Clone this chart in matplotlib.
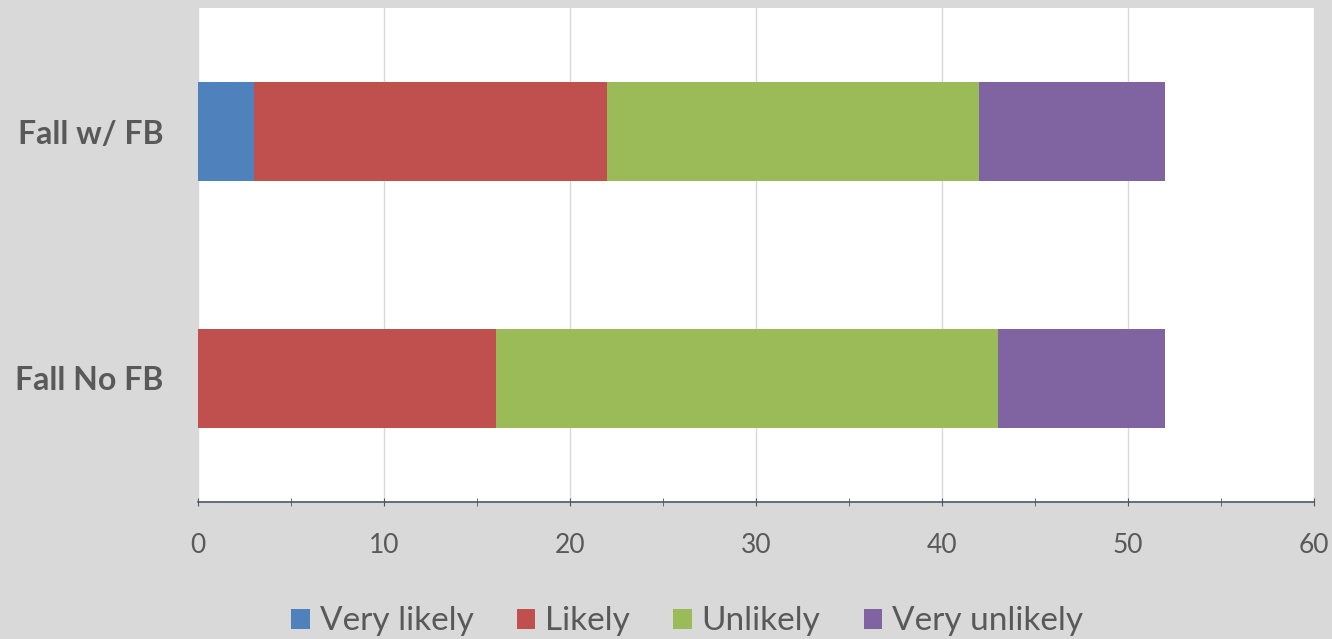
import matplotlib
matplotlib.use("Agg")
import matplotlib.pyplot as plt
import numpy as np

categories = ["Fall No FB", "Fall w/ FB"]
series_names = ["Very likely", "Likely", "Unlikely", "Very unlikely"]
very_likely = [0, 3]
likely = [16, 19]
unlikely = [27, 20]
very_unlikely = [9, 10]
x_ticks = [0, 10, 20, 30, 40, 50, 60]

colors = ["#4f81bd", "#c0504d", "#9bbb59", "#8064a2"]
bg = "#d9d9d9"
txt = "#595959"

plt.rcParams['font.family'] = ['Lato', 'DejaVu Sans']

fig = plt.figure(figsize=(13.32, 6.39), dpi=100, facecolor=bg)
ax = fig.add_axes([198/1332, 1-502/639, (1314-198)/1332, (502-8)/639])
ax.set_facecolor("white")

y = np.arange(len(categories))
left = np.zeros(len(categories))
for name, vals, c in zip(series_names, [very_likely, likely, unlikely, very_unlikely], colors):
    ax.barh(y, vals, left=left, height=0.4, color=c, label=name, zorder=3)
    left += np.array(vals)

ax.set_xlim(0, 60)
ax.set_ylim(-0.5, 1.5)
ax.set_xticks(x_ticks)
ax.set_xticks(np.arange(5, 60, 10), minor=True)
ax.set_yticks(y)
ax.set_yticklabels(categories, fontsize=23, fontweight='bold', color=txt)
ax.xaxis.grid(True, color="#d9d9d9", linewidth=1, zorder=0)
ax.set_axisbelow(True)
for s in ["top", "right", "left"]:
    ax.spines[s].set_visible(False)
ax.spines["bottom"].set_color("#4a5868")
ax.spines["bottom"].set_linewidth(1.2)
ax.tick_params(axis='y', length=0, pad=25)
ax.tick_params(axis='x', which='both', direction='inout', length=6, color="#4a5868",
               labelsize=19, labelcolor=txt, pad=19)
ax.tick_params(axis='x', which='minor', length=6)

leg = fig.legend(loc='lower center', bbox_to_anchor=(0.516, -0.043), ncol=4, frameon=False,
                 fontsize=24, labelcolor=txt, handlelength=0.55, handleheight=0.55,
                 handletextpad=0.3, columnspacing=1.3)

fig.savefig("out.png", dpi=100, facecolor=bg)
